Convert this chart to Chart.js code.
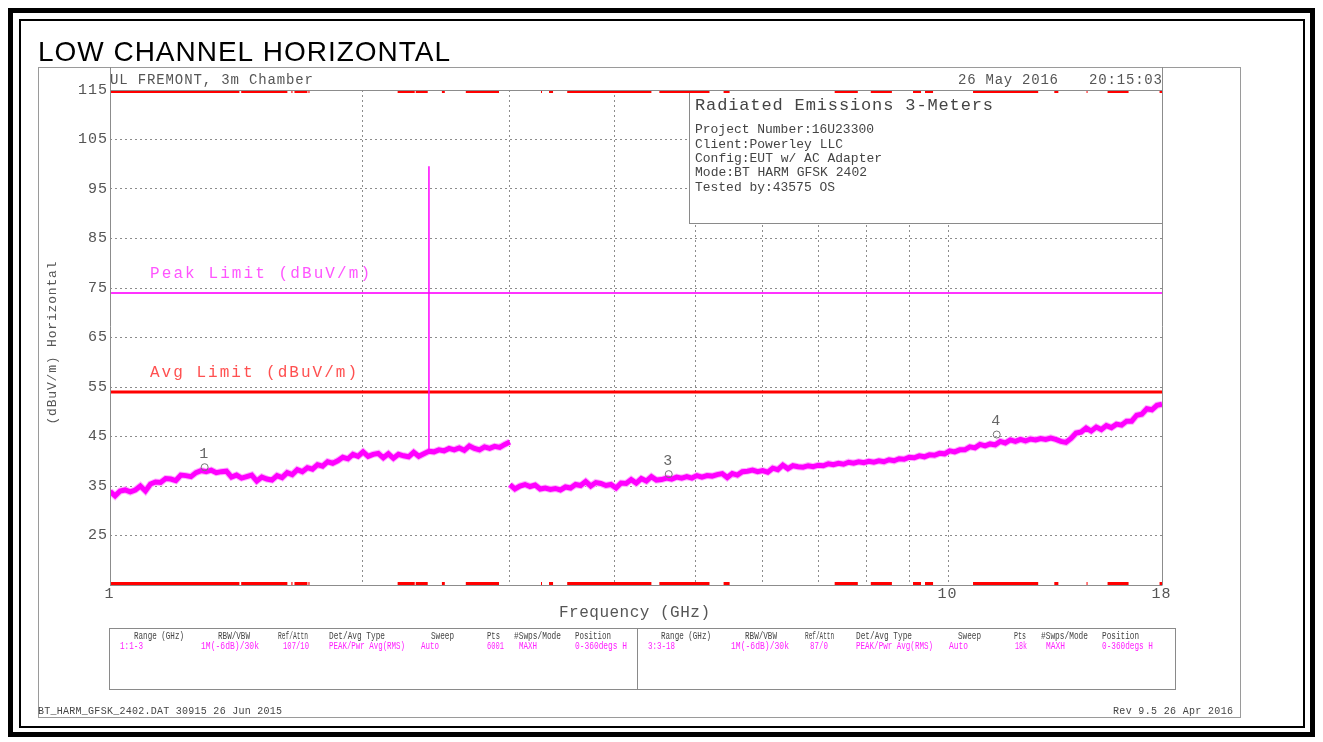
<!DOCTYPE html>
<html>
<head>
<meta charset="utf-8">
<title>LOW CHANNEL HORIZONTAL</title>
<script src="https://cdn.jsdelivr.net/npm/chart.js@4.4.1/dist/chart.umd.min.js"></script>
<style>
  html, body { margin: 0; padding: 0; background: #fff; }
  canvas { display: block; }
</style>
</head>
<body>
<canvas id="emissionsChart" width="1323" height="742"></canvas>
<script>
// two sweeps: 1-3 GHz and 3-18 GHz, peak detector / max hold (dBuV/m)
const lowSweep = [1, 3];
const highSweep = [3, 18];

const lowLevels = [
  33.9, 33.0, 34.0, 34.2, 33.8, 34.2, 35.0, 34.0, 35.4, 35.8,
  35.7, 36.5, 36.4, 36.1, 37.2, 37.1, 36.9, 37.7, 38.1, 37.9,
  38.2, 37.7, 37.9, 38.0, 36.8, 37.2, 36.6, 36.9, 37.2, 36.0,
  36.8, 36.4, 36.2, 37.1, 36.7, 37.7, 37.3, 38.3, 37.9, 38.7,
  38.4, 39.3, 39.0, 39.9, 39.6, 40.1, 40.8, 40.5, 41.4, 41.0,
  41.9, 41.0, 41.4, 41.6, 40.7, 41.5, 40.6, 41.4, 41.1, 40.9,
  41.8, 41.0, 41.5, 42.0, 41.9, 42.3, 42.1, 42.6, 42.3, 42.7,
  42.2, 43.1, 42.6, 42.3, 42.9, 42.6, 43.0, 42.8, 43.4, 43.9
];

const highLevels = [
  35.3, 34.4, 35.0, 35.3, 34.9, 35.2, 34.4, 34.6, 34.3, 34.5,
  34.2, 34.8, 34.6, 35.3, 35.1, 35.9, 35.0, 35.7, 35.5, 35.1,
  35.3, 34.6, 35.6, 35.5, 36.3, 35.6, 36.5, 36.0, 36.9, 36.2,
  36.3, 36.6, 36.4, 36.8, 36.6, 36.9, 36.6, 37.1, 36.8, 37.1,
  37.0, 37.3, 37.5, 36.7, 37.5, 37.2, 37.9, 38.0, 38.2, 37.9,
  38.1, 37.8, 38.6, 38.3, 39.2, 38.5, 39.1, 38.9, 38.8, 39.1,
  38.9, 39.2, 39.1, 39.5, 39.3, 39.6, 39.4, 39.8, 39.6, 39.9,
  39.7, 40.0, 39.8, 40.1, 39.9, 40.3, 40.1, 40.5, 40.4, 40.8,
  40.7, 41.1, 40.9, 41.3, 41.2, 41.6, 41.5, 42.1, 41.9, 42.3,
  42.3, 42.9, 42.7, 43.4, 43.1, 43.5, 43.3, 44.0, 43.7, 44.3,
  44.0, 44.4, 44.1, 44.5, 44.3, 44.6, 44.4, 44.7, 44.4, 44.0,
  43.8, 44.6, 45.7, 45.9, 46.7, 46.1, 46.9, 46.4, 47.2, 46.8,
  47.5, 47.3, 48.1, 48.1, 49.3, 49.5, 50.6, 50.4, 51.3, 51.5
];

// BT carrier at 2402 MHz
const carrierFreq = 2.402;
const carrierBase = 42.0;
const carrierTop = 99.6;

const peakLimit = 74;
const avgLimit = 54;

const markerNames = ['1', '3', '4'];
const markerFreqs = [1.297, 4.642, 11.43];
const markerLevels = [38.8, 37.4, 45.4];

// restricted bands (GHz), shown along top and bottom edges
const restrictedBands = [
  [1.000, 1.427], [1.434, 1.628], [1.646, 1.651], [1.660, 1.720], [1.725, 1.730],
  [2.204, 2.310], [2.316, 2.394], [2.489, 2.509], [2.658, 2.912],
  [3.268, 3.277], [3.341, 3.378], [3.512, 4.426], [4.524, 5.192], [5.397, 5.487],
  [7.323, 7.804], [8.087, 8.570], [9.082, 9.284], [9.386, 9.596],
  [10.71, 12.81], [13.39, 13.54], [14.63, 14.67], [15.50, 16.42], [17.88, 18.0]
];

const yTicks = [15, 25, 35, 45, 55, 65, 75, 85, 95, 105, 115];
const xGrid = [1, 2, 3, 4, 5, 6, 7, 8, 9, 10, 18];
const xLabels = [1, 10, 18];

const infoTitle = 'Radiated Emissions 3-Meters';
const infoLines = [
  'Project Number:16U23300',
  'Client:Powerley LLC',
  'Config:EUT w/ AC Adapter',
  'Mode:BT HARM GFSK 2402',
  'Tested by:43575 OS'
];

const tableHeaders = ['Range (GHz)', 'RBW/VBW', 'Ref/Attn', 'Det/Avg Type', 'Sweep', 'Pts', '#Swps/Mode', 'Position'];
const tableLow = ['1:1-3', '1M(-6dB)/30k', '107/10', 'PEAK/Pwr Avg(RMS)', 'Auto', '6001', 'MAXH', '0-360degs H'];
const tableHigh = ['3:3-18', '1M(-6dB)/30k', '87/0', 'PEAK/Pwr Avg(RMS)', 'Auto', '18k', 'MAXH', '0-360degs H'];

const MONO = '"Liberation Mono", "DejaVu Sans Mono", monospace';
const GREY = '#555';

function sweepPoints(range, levels) {
  const f0 = range[0], f1 = range[1];
  const n = levels.length;
  return levels.map((y, i) => ({ x: f0 * Math.pow(f1 / f0, i / (n - 1)), y: y }));
}

function bandPoints(level) {
  const pts = [];
  restrictedBands.forEach(b => {
    pts.push({ x: b[0], y: level }, { x: b[1], y: level }, { x: b[1], y: null });
  });
  return pts;
}

// text stretched (letter spacing) or squeezed to a given width
function txt(ctx, str, x, y, o) {
  ctx.save();
  ctx.font = o.font;
  ctx.fillStyle = o.color || GREY;
  ctx.textBaseline = o.baseline || 'middle';
  ctx.textAlign = 'left';
  ctx.letterSpacing = '0px';
  const w = ctx.measureText(str).width;
  const width = o.width || w;
  let left = x;
  if (o.align === 'right') left = x - width;
  else if (o.align === 'center') left = x - width / 2;
  if (!o.width || str.length < 2) {
    ctx.fillText(str, left, y);
  } else if (w > width) {
    ctx.translate(left, y);
    ctx.scale(width / w, 1);
    ctx.fillText(str, 0, 0);
  } else {
    ctx.letterSpacing = ((width - w) / (str.length - 1)) + 'px';
    ctx.fillText(str, left, y);
  }
  ctx.restore();
}

function line(ctx, x1, y1, x2, y2, color, w) {
  ctx.save();
  ctx.strokeStyle = color;
  ctx.lineWidth = w || 1;
  ctx.beginPath();
  ctx.moveTo(x1, y1);
  ctx.lineTo(x2, y2);
  ctx.stroke();
  ctx.restore();
}

const sheetPlugin = {
  id: 'sheet',
  beforeDraw(chart) {
    const ctx = chart.ctx;
    ctx.save();
    ctx.fillStyle = '#fff';
    ctx.fillRect(0, 0, chart.width, chart.height);
    ctx.strokeStyle = '#000';
    ctx.lineWidth = 5;
    ctx.strokeRect(10.5, 10.5, 1302, 724);
    ctx.lineWidth = 2;
    ctx.strokeRect(20, 20, 1284, 707);
    ctx.strokeStyle = '#9a9a9a';
    ctx.lineWidth = 1;
    ctx.strokeRect(38.5, 67.5, 1202, 650);
    ctx.restore();

    txt(ctx, 'LOW CHANNEL HORIZONTAL', 38, 61, { font: '28px "Liberation Sans", Arial, sans-serif', color: '#000', width: 412, baseline: 'alphabetic' });
    txt(ctx, 'UL FREMONT, 3m Chamber', 110, 80, { font: '14px ' + MONO, width: 203 });
    txt(ctx, '26 May 2016', 958, 80, { font: '14px ' + MONO, width: 100 });
    txt(ctx, '20:15:03', 1089, 80, { font: '14px ' + MONO, width: 73 });
  },
  beforeDatasetsDraw(chart) {
    // header box in the upper right of the plot
    const ctx = chart.ctx;
    ctx.save();
    ctx.fillStyle = '#fff';
    ctx.fillRect(689, 90, 474, 134);
    ctx.strokeStyle = '#8a8a8a';
    ctx.lineWidth = 1;
    ctx.strokeRect(689.5, 90.5, 473, 133);
    ctx.restore();
    txt(ctx, infoTitle, 695, 105, { font: '17px ' + MONO, color: '#444', width: 298 });
    const widths = [179, 148, 187, 172, 140];
    infoLines.forEach((s, i) => {
      txt(ctx, s, 695, 130 + i * 14.3, { font: '13px ' + MONO, color: '#444', width: widths[i] });
    });
  },
  afterDatasetsDraw(chart) {
    const ctx = chart.ctx;
    const meta = chart.getDatasetMeta(0);
    meta.data.forEach((pt, i) => {
      txt(ctx, markerNames[i], pt.x - 1, pt.y - 13, { font: '15px ' + MONO, color: '#666', align: 'center' });
    });
  },
  afterDraw(chart) {
    const ctx = chart.ctx;
    const xs = chart.scales.x, ys = chart.scales.y;
    const a = chart.chartArea;
    const frame = '#8c8c8c';

    // plot frame, including the header band above the plot
    line(ctx, a.left + 0.5, 67, a.left + 0.5, a.bottom + 0.5, frame);
    line(ctx, a.right + 0.5, 67, a.right + 0.5, a.bottom + 0.5, frame);
    line(ctx, a.left, a.top + 0.5, a.right, a.top + 0.5, frame);
    line(ctx, a.left, a.bottom + 0.5, a.right, a.bottom + 0.5, frame);

    yTicks.filter(v => v > 15).forEach(v => {
      const s = String(v);
      txt(ctx, s, 107, ys.getPixelForValue(v), { font: '15px ' + MONO, align: 'right', width: s.length === 3 ? 29 : 19 });
    });
    xLabels.forEach(v => {
      const s = String(v);
      txt(ctx, s, xs.getPixelForValue(v) - 1, 594, { font: '15px ' + MONO, align: 'center', width: s.length === 2 ? 19 : null });
    });
    txt(ctx, 'Frequency (GHz)', 559, 613, { font: '16px ' + MONO, width: 151 });

    ctx.save();
    ctx.translate(53, 343);
    ctx.rotate(-Math.PI / 2);
    txt(ctx, '(dBuV/m) Horizontal', 0, 0, { font: '13px ' + MONO, align: 'center', width: 163 });
    ctx.restore();

    txt(ctx, 'Peak Limit (dBuV/m)', 150, ys.getPixelForValue(peakLimit) - 19, { font: '16px ' + MONO, color: '#ff55ff', width: 220 });
    txt(ctx, 'Avg Limit (dBuV/m)', 150, ys.getPixelForValue(avgLimit) - 19, { font: '16px ' + MONO, color: '#ff5050', width: 207 });

    // sweep settings table
    ctx.save();
    ctx.strokeStyle = '#8a8a8a';
    ctx.lineWidth = 1;
    ctx.strokeRect(109.5, 628.5, 1066, 61);
    ctx.restore();
    line(ctx, 637.5, 628, 637.5, 690, '#8a8a8a');

    const hdrL = [[134, 50], [218, 32], [278, 30], [329, 56], [431, 23], [487, 13], [514, 47], [575, 36]];
    const valL = [[120, 23], [201, 58], [283, 26], [329, 76], [421, 18], [487, 17], [519, 18], [575, 52]];
    const hdrR = [[661, 50], [745, 32], [805, 29], [856, 56], [958, 23], [1014, 12], [1041, 47], [1102, 37]];
    const valR = [[648, 27], [731, 58], [810, 18], [856, 77], [949, 19], [1015, 12], [1046, 19], [1102, 51]];
    const small = '10px ' + MONO;
    tableHeaders.forEach((s, i) => {
      txt(ctx, s, hdrL[i][0], 636, { font: small, color: '#444', width: hdrL[i][1] });
      txt(ctx, s, hdrR[i][0], 636, { font: small, color: '#444', width: hdrR[i][1] });
    });
    tableLow.forEach((s, i) => {
      txt(ctx, s, valL[i][0], 646, { font: small, color: '#ff22ff', width: valL[i][1] });
    });
    tableHigh.forEach((s, i) => {
      txt(ctx, s, valR[i][0], 646, { font: small, color: '#ff22ff', width: valR[i][1] });
    });

    txt(ctx, 'BT_HARM_GFSK_2402.DAT 30915 26 Jun 2015', 38, 711, { font: small, color: '#444', width: 244 });
    txt(ctx, 'Rev 9.5 26 Apr 2016', 1113, 711, { font: small, color: '#444', width: 120 });
  }
};

const lowPts = sweepPoints(lowSweep, lowLevels);
const highPts = sweepPoints(highSweep, highLevels);

new Chart(document.getElementById('emissionsChart'), {
  type: 'line',
  data: {
    datasets: [
      {
        label: 'Markers',
        data: markerFreqs.map((f, i) => ({ x: f, y: markerLevels[i] })),
        showLine: false,
        pointRadius: 3.5,
        pointStyle: 'circle',
        pointBorderColor: '#777',
        pointBackgroundColor: 'rgba(0,0,0,0)',
        pointBorderWidth: 1,
        order: 0
      },
      { label: 'Trace 1-3 GHz', data: lowPts, borderColor: '#ff00ff', borderWidth: 5, borderJoinStyle: 'miter', order: 1 },
      { label: 'Trace 3-18 GHz', data: highPts, borderColor: '#ff00ff', borderWidth: 5, borderJoinStyle: 'miter', order: 1 },
      {
        label: 'Carrier',
        data: [{ x: carrierFreq, y: carrierBase }, { x: carrierFreq, y: carrierTop }],
        borderColor: '#ff00ff', borderWidth: 1.5, order: 1
      },
      { label: 'Trace halo low', data: lowPts, borderColor: '#ffb0ff', borderWidth: 7, borderJoinStyle: 'miter', order: 2 },
      { label: 'Trace halo high', data: highPts, borderColor: '#ffb0ff', borderWidth: 7, borderJoinStyle: 'miter', order: 2 },
      {
        label: 'Peak Limit',
        data: [{ x: 1, y: peakLimit }, { x: 18, y: peakLimit }],
        borderColor: '#ff33ff', borderWidth: 2, order: 3
      },
      {
        label: 'Avg Limit',
        data: [{ x: 1, y: avgLimit }, { x: 18, y: avgLimit }],
        borderColor: '#ff0000', borderWidth: 3, order: 3
      },
      { label: 'Bands top', data: bandPoints(115), borderColor: '#ff0000', borderWidth: 6, borderCapStyle: 'butt', spanGaps: false, clip: 0, order: 4 },
      { label: 'Bands bottom', data: bandPoints(15), borderColor: '#ff0000', borderWidth: 6, borderCapStyle: 'butt', spanGaps: false, clip: 0, order: 4 }
    ]
  },
  options: {
    responsive: false,
    animation: false,
    layout: { padding: { left: 110, top: 90, right: 161, bottom: 157 } },
    plugins: { legend: { display: false }, tooltip: { enabled: false } },
    elements: { point: { radius: 0 }, line: { tension: 0 } },
    scales: {
      x: {
        type: 'logarithmic',
        min: 1,
        max: 18,
        afterBuildTicks: s => { s.ticks = xGrid.map(v => ({ value: v })); },
        ticks: { display: false },
        grid: {
          drawTicks: false,
          color: c => (c.tick && c.tick.value > 1 && c.tick.value <= 10) ? '#8c8c8c' : 'rgba(0,0,0,0)'
        },
        border: { display: false, dash: [2, 3] }
      },
      y: {
        min: 15,
        max: 115,
        afterBuildTicks: s => { s.ticks = yTicks.map(v => ({ value: v })); },
        ticks: { display: false },
        grid: {
          drawTicks: false,
          color: c => (c.tick && c.tick.value > 15 && c.tick.value < 115) ? '#8c8c8c' : 'rgba(0,0,0,0)'
        },
        border: { display: false, dash: [2, 3] }
      }
    }
  },
  plugins: [sheetPlugin]
});
</script>
</body>
</html>
